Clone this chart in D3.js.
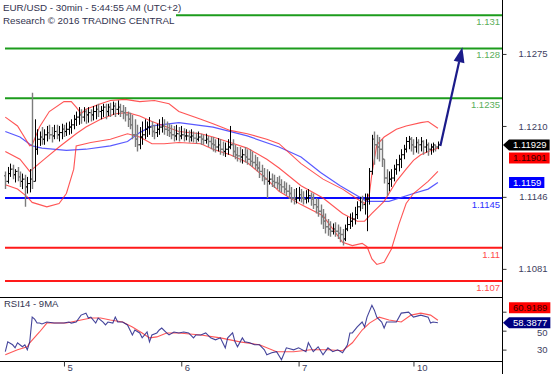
<!DOCTYPE html>
<html>
<head>
<meta charset="utf-8">
<script src="https://cdn.jsdelivr.net/npm/d3@7"></script>
<style>
  body { margin: 0; background: #fff; }
  svg { display: block; font-family: "Liberation Sans", Arial, sans-serif; }
</style>
</head>
<body>
<div id="chart"></div>
<script>
// ---- data (EUR/USD 30min bars) ----
const firstOpen = 1.1165;
const highs = [1.1169,1.1173,1.1176,1.1175,1.1171,1.1173,1.1169,1.1167,1.1166,1.1164,
  1.1171,1.1240,1.1216,1.1207,1.1205,1.1209,1.1207,1.1210,1.1211,1.1209,
  1.1211,1.1211,1.1210,1.1212,1.1211,1.1213,1.1214,1.1216,1.1220,1.1223,
  1.1227,1.1225,1.1227,1.1225,1.1227,1.1225,1.1228,1.1229,1.1230,1.1228,
  1.1230,1.1230,1.1230,1.1231,1.1232,1.1231,1.1233,1.1230,1.1229,1.1227,
  1.1223,1.1222,1.1220,1.1216,1.1211,1.1209,1.1214,1.1216,1.1214,1.1218,
  1.1214,1.1211,1.1212,1.1216,1.1218,1.1216,1.1214,1.1212,1.1211,1.1210,
  1.1211,1.1209,1.1210,1.1208,1.1207,1.1206,1.1207,1.1205,1.1204,1.1205,
  1.1203,1.1202,1.1203,1.1201,1.1200,1.1200,1.1198,1.1199,1.1198,1.1196,
  1.1195,1.1198,1.1210,1.1198,1.1193,1.1191,1.1191,1.1189,1.1191,1.1189,
  1.1189,1.1187,1.1184,1.1182,1.1178,1.1175,1.1172,1.1171,1.1169,1.1167,
  1.1166,1.1164,1.1165,1.1162,1.1160,1.1159,1.1157,1.1155,1.1153,1.1154,
  1.1155,1.1153,1.1151,1.1152,1.1153,1.1150,1.1149,1.1145,1.1144,1.1139,
  1.1135,1.1131,1.1126,1.1124,1.1122,1.1123,1.1121,1.1119,1.1117,1.1121,
  1.1128,1.1131,1.1132,1.1137,1.1142,1.1146,1.1147,1.1149,1.1149,1.1172,
  1.1202,1.1205,1.1202,1.1200,1.1198,1.1180,1.1171,1.1169,1.1171,1.1175,
  1.1180,1.1184,1.1189,1.1193,1.1200,1.1201,1.1200,1.1198,1.1200,1.1198,
  1.1200,1.1197,1.1198,1.1195,1.1194,1.1195,1.1193,1.1196];
const lows = [1.1153,1.1158,1.1164,1.1162,1.1159,1.1160,1.1155,1.1153,1.1137,1.1149,
  1.1150,1.1153,1.1160,1.1184,1.1192,1.1193,1.1193,1.1196,1.1198,1.1195,
  1.1198,1.1198,1.1196,1.1198,1.1200,1.1201,1.1202,1.1203,1.1207,1.1210,
  1.1211,1.1212,1.1214,1.1212,1.1213,1.1214,1.1215,1.1216,1.1218,1.1216,
  1.1218,1.1216,1.1219,1.1218,1.1220,1.1218,1.1220,1.1218,1.1216,1.1214,
  1.1209,1.1207,1.1198,1.1191,1.1187,1.1189,1.1193,1.1198,1.1200,1.1202,
  1.1200,1.1198,1.1200,1.1202,1.1204,1.1202,1.1201,1.1200,1.1198,1.1196,
  1.1197,1.1196,1.1198,1.1196,1.1197,1.1195,1.1196,1.1195,1.1194,1.1196,
  1.1193,1.1193,1.1194,1.1191,1.1189,1.1187,1.1186,1.1187,1.1184,1.1183,
  1.1182,1.1184,1.1189,1.1182,1.1180,1.1178,1.1177,1.1176,1.1177,1.1175,
  1.1174,1.1173,1.1171,1.1169,1.1163,1.1160,1.1157,1.1145,1.1157,1.1155,
  1.1154,1.1153,1.1151,1.1150,1.1149,1.1147,1.1144,1.1141,1.1139,1.1140,
  1.1142,1.1141,1.1139,1.1140,1.1141,1.1138,1.1135,1.1131,1.1128,1.1121,
  1.1117,1.1113,1.1111,1.1110,1.1112,1.1110,1.1108,1.1105,1.1102,1.1106,
  1.1115,1.1117,1.1119,1.1121,1.1126,1.1133,1.1135,1.1130,1.1115,1.1139,
  1.1166,1.1175,1.1180,1.1178,1.1173,1.1158,1.1147,1.1151,1.1155,1.1160,
  1.1166,1.1169,1.1172,1.1180,1.1186,1.1189,1.1187,1.1184,1.1186,1.1185,
  1.1187,1.1184,1.1186,1.1183,1.1184,1.1186,1.1187,1.1189];
const closes = [1.1160,1.1167,1.1171,1.1166,1.1169,1.1164,1.1160,1.1162,1.1155,1.1158,
  1.1162,1.1160,1.1189,1.1198,1.1200,1.1198,1.1202,1.1204,1.1202,1.1201,
  1.1205,1.1202,1.1204,1.1207,1.1205,1.1207,1.1209,1.1211,1.1216,1.1218,
  1.1220,1.1218,1.1223,1.1220,1.1222,1.1220,1.1223,1.1225,1.1223,1.1224,
  1.1227,1.1223,1.1227,1.1225,1.1228,1.1225,1.1227,1.1223,1.1222,1.1220,
  1.1216,1.1211,1.1202,1.1198,1.1193,1.1200,1.1202,1.1207,1.1209,1.1209,
  1.1205,1.1204,1.1207,1.1209,1.1210,1.1207,1.1206,1.1204,1.1202,1.1201,
  1.1203,1.1201,1.1202,1.1201,1.1201,1.1200,1.1201,1.1199,1.1198,1.1200,
  1.1198,1.1197,1.1198,1.1196,1.1194,1.1193,1.1191,1.1193,1.1189,1.1187,
  1.1189,1.1191,1.1193,1.1187,1.1184,1.1183,1.1182,1.1184,1.1182,1.1180,
  1.1178,1.1177,1.1175,1.1172,1.1169,1.1165,1.1162,1.1160,1.1162,1.1160,
  1.1159,1.1158,1.1157,1.1155,1.1153,1.1151,1.1149,1.1145,1.1144,1.1145,
  1.1148,1.1145,1.1144,1.1145,1.1147,1.1144,1.1139,1.1137,1.1133,1.1128,
  1.1124,1.1119,1.1117,1.1115,1.1117,1.1115,1.1113,1.1112,1.1108,1.1117,
  1.1121,1.1124,1.1126,1.1130,1.1137,1.1141,1.1139,1.1144,1.1144,1.1169,
  1.1198,1.1193,1.1191,1.1189,1.1180,1.1163,1.1158,1.1162,1.1163,1.1171,
  1.1175,1.1180,1.1184,1.1189,1.1196,1.1198,1.1193,1.1191,1.1195,1.1193,
  1.1196,1.1191,1.1193,1.1189,1.1191,1.1193,1.1191,1.1193];

// indicator lines, [bar index, value]
const bbUpper = [[0,1.1218],[5,1.1210],[10,1.1192],[11,1.1193],[14,1.1209],[18,1.1223],[24,1.1232],[27,1.1232],
  [29,1.1227],[31,1.1221],[33,1.1225],[39,1.1230],[43,1.1233],[49,1.1234],[55,1.1232],[61,1.1233],[67,1.1230],
  [71,1.1223],[80,1.1216],[85,1.1212],[92,1.1206],[99,1.1203],[107,1.1198],[112,1.1194],[121,1.1176],[130,1.1162],
  [138,1.1153],[144,1.1144],[147,1.1140],[149,1.1149],[150,1.1167],[152,1.1193],[155,1.1200],[160,1.1207],
  [164,1.1210],[170,1.1213],[173,1.1214],[177,1.1208]];
const bbMid = [[0,1.1187],[6,1.1180],[10,1.1169],[16,1.1180],[22,1.1191],[29,1.1203],[33,1.1209],[39,1.1216],
  [45,1.1221],[50,1.1222],[55,1.1219],[60,1.1214],[65,1.1210],[71,1.1205],[80,1.1203],[85,1.1200],[92,1.1195],
  [99,1.1190],[107,1.1180],[112,1.1172],[121,1.1156],[130,1.1145],[138,1.1131],[144,1.1124],[147,1.1124],
  [150,1.1131],[155,1.1142],[160,1.1160],[164,1.1171],[167,1.1179],[170,1.1184],[173,1.1187],[177,1.1190]];
const bbLower = [[0,1.1157],[5,1.1153],[9,1.1146],[11,1.1141],[17,1.1137],[22,1.1140],[25,1.1149],[28,1.1171],
  [29,1.1192],[35,1.1195],[43,1.1198],[50,1.1203],[55,1.1200],[60,1.1194],[65,1.1194],[71,1.1195],[80,1.1194],
  [85,1.1189],[92,1.1184],[99,1.1177],[107,1.1162],[112,1.1151],[121,1.1139],[130,1.1129],[138,1.1105],
  [142,1.1102],[146,1.1104],[148,1.1101],[150,1.1090],[152,1.1085],[155,1.1087],[158,1.1099],[161,1.1121],
  [164,1.1140],[167,1.1149],[173,1.1160],[177,1.1169]];
const maBlue = [[0,1.1205],[6,1.1200],[11,1.1192],[15,1.1190],[25,1.1188],[33,1.1189],[43,1.1192],[50,1.1196],
  [55,1.1204],[60,1.1210],[71,1.1213],[85,1.1209],[99,1.1201],[112,1.1191],[121,1.1182],[129,1.1168],
  [137,1.1156],[144,1.1147],[148,1.1142],[157,1.1142],[167,1.1149],[173,1.1153],[177,1.1159]];

const rsi = [[0,27.8],[1,38.2],[3,35.1],[4,31.9],[5,37.2],[7,33.0],[8,35.1],[9,29.8],[10,38.2],[11,64.3],
  [12,62.2],[13,58.0],[14,58.0],[15,57.0],[17,59.1],[20,58.0],[22,58.0],[24,58.0],[26,59.1],[27,58.0],
  [29,59.1],[31,66.4],[33,68.5],[34,63.3],[35,64.3],[37,58.0],[38,63.3],[40,59.1],[41,56.0],[42,59.1],
  [44,58.0],[45,64.3],[46,59.1],[48,59.1],[50,56.0],[52,45.5],[53,50.7],[55,47.6],[56,42.4],[58,48.6],
  [59,38.2],[60,45.5],[62,47.6],[63,50.7],[64,52.8],[66,47.6],[67,45.5],[69,48.6],[71,47.6],[73,48.6],
  [75,47.6],[77,42.4],[78,45.5],[80,45.5],[82,47.6],[84,42.4],[86,40.3],[88,42.4],[90,31.9],[91,42.4],
  [93,47.6],[94,38.2],[95,33.0],[97,42.4],[98,38.2],[100,37.2],[102,35.1],[104,35.1],[106,29.8],[107,24.6],
  [109,26.7],[111,27.8],[113,19.4],[115,31.9],[118,29.8],[120,31.9],[123,27.8],[124,37.2],[126,27.8],
  [128,33.0],[130,24.6],[132,31.9],[134,27.8],[136,29.8],[138,26.7],[140,35.1],[141,47.6],[142,47.6],
  [144,53.9],[146,59.1],[147,53.9],[148,64.3],[150,76.8],[151,71.6],[152,64.3],[154,59.1],[155,52.8],
  [156,59.1],[158,59.1],[160,59.1],[162,68.5],[165,69.5],[167,64.3],[170,66.4],[173,64.3],[174,58.0],
  [175,59.1],[177,58.3877]];
const rsiMa = [[0,24.6],[5,29.8],[9,33.0],[10,37.2],[14,48.6],[17,58.0],[20,58.0],[25,58.0],[31,61.2],
  [35,63.3],[39,63.3],[43,61.2],[48,59.1],[52,53.9],[56,47.6],[59,42.4],[62,43.4],[66,47.6],[71,47.6],
  [80,45.5],[88,42.4],[96,38.2],[104,35.1],[111,27.8],[118,27.8],[125,29.8],[132,29.8],[138,28.8],
  [142,37.2],[146,50.7],[149,58.0],[153,64.3],[157,61.2],[162,59.1],[166,66.4],[170,68.5],[174,66.4],
  [177,60.9189]];

// key levels drawn as horizontal lines
const levelValues = [1.131, 1.128, 1.1235, 1.1145, 1.11, 1.107];
const levelLabels = ["1.131", "1.128", "1.1235", "1.1145", "1.11", "1.107"];
const levelKinds = ["res", "res", "res", "pivot", "sup", "sup"];

// axis ticks (the 70 label sits under the RSI-MA tag, so it has no text)
const priceTicks = [1.1275, 1.1210, 1.1146, 1.1081];
const rsiTicks = [70, 50, 30];
const rsiTickLabels = ["", "50", "30"];
const dayLabels = ["5", "6", "7", "10"];
const dayIndex = [24, 72, 120, 167];

// arrow (target projection)
const arrowFrom = [178, 1.1192];
const arrowTo = [187, 1.1281];

// ---- chart ----
const width = 554, height = 374;
const axisX = 502;

const svg = d3.select('#chart')
    .append('svg')
    .attr('width', width)
    .attr('height', height);

const x = d3.scaleLinear().domain([0, 177]).range([5.3, 437.9]);
const y = d3.scaleLinear().domain([1.10556, 1.13237]).range([297, 0]);
const yR = d3.scaleLinear().domain([18, 85.5]).range([361, 297]);

const defs = svg.append('defs');
defs.append('clipPath').attr('id', 'clipMain')
    .append('rect').attr('x', 0).attr('y', 0).attr('width', axisX).attr('height', 297);
defs.append('clipPath').attr('id', 'clipRsi')
    .append('rect').attr('x', 0).attr('y', 297).attr('width', axisX).attr('height', 64);

const levelStyle = {
    res: {line: '#1c9c1c', text: '#5aae5a'},
    pivot: {line: '#0a0aff', text: '#3030ff'},
    sup: {line: '#ff1a1a', text: '#ff4c4c'}
};

const main = svg.append('g').attr('clip-path', 'url(#clipMain)');

// level lines
const levels = main.append('g')
    .selectAll('g')
    .data(levelValues)
    .join('g');

levels.append('line')
    .attr('x1', 5)
    .attr('x2', axisX)
    .attr('y1', d => y(d))
    .attr('y2', d => y(d))
    .attr('stroke', (d, i) => levelStyle[levelKinds[i]].line)
    .attr('stroke-width', 2);

levels.append('text')
    .text((d, i) => levelLabels[i])
    .attr('x', axisX - 2)
    .attr('y', d => y(d) + 10)
    .attr('text-anchor', 'end')
    .attr('font-size', 9.5)
    .attr('fill', (d, i) => levelStyle[levelKinds[i]].text);

// indicator lines
const line = d3.line()
    .x(d => x(d[0]))
    .y(d => y(d[1]));

main.append('path').datum(maBlue)
    .attr('fill', 'none').attr('stroke', '#3c3cff').attr('stroke-opacity', 0.85)
    .attr('stroke-width', 1.2).attr('d', line);

[bbUpper, bbMid, bbLower].forEach(s => {
    main.append('path').datum(s)
        .attr('fill', 'none').attr('stroke', '#ff2a2a').attr('stroke-opacity', 0.8)
        .attr('stroke-width', 1.1).attr('d', line);
});

// OHLC bars
const bars = closes.map((c, i) => ({
    i: i, o: i ? closes[i - 1] : firstOpen, h: highs[i], l: lows[i], c: c
}));

main.append('g')
    .selectAll('path')
    .data(bars)
    .join('path')
    .attr('fill', 'none')
    .attr('stroke', d => d.c >= d.o ? '#000' : '#7c7c7c')
    .attr('stroke-width', d => d.c >= d.o ? 1 : 1.4)
    .attr('d', d => {
        const px = Math.round(x(d.i)) + 0.5;
        return `M${px},${y(d.h)}V${y(d.l)}M${px - 1.5},${y(d.o)}H${px}M${px},${y(d.c)}H${px + 1.5}`;
    });

// projection arrow
const ax0 = x(arrowFrom[0]), ay0 = y(arrowFrom[1]);
const ax1 = x(arrowTo[0]), ay1 = y(arrowTo[1]);
const ang = Math.atan2(ay1 - ay0, ax1 - ax0);
const headLen = 15, headW = 5.5;
const bx = ax1 - headLen * Math.cos(ang), by = ay1 - headLen * Math.sin(ang);
main.append('line')
    .attr('x1', ax0).attr('y1', ay0).attr('x2', bx).attr('y2', by)
    .attr('stroke', '#1b1b8a').attr('stroke-width', 2.2);
main.append('path')
    .attr('d', `M${ax1},${ay1}L${bx + headW * Math.sin(ang)},${by - headW * Math.cos(ang)}` +
        `L${bx - headW * Math.sin(ang)},${by + headW * Math.cos(ang)}Z`)
    .attr('fill', '#1b1b8a');

// RSI panel
const rsiG = svg.append('g').attr('clip-path', 'url(#clipRsi)');
const rline = d3.line()
    .x(d => x(d[0]))
    .y(d => yR(d[1]));

rsiG.append('path').datum(rsiMa)
    .attr('fill', 'none').attr('stroke', '#ff3a3a').attr('stroke-opacity', 0.85)
    .attr('stroke-width', 1.1).attr('d', rline);
rsiG.append('path').datum(rsi)
    .attr('fill', 'none').attr('stroke', '#23238a').attr('stroke-opacity', 0.85)
    .attr('stroke-width', 1.1).attr('d', rline);

// panel borders
svg.append('line').attr('x1', 0).attr('x2', axisX).attr('y1', 297.5).attr('y2', 297.5)
    .attr('stroke', '#000');
svg.append('line').attr('x1', 0).attr('x2', axisX).attr('y1', 361.5).attr('y2', 361.5)
    .attr('stroke', '#000');
svg.append('line').attr('x1', axisX + 0.5).attr('x2', axisX + 0.5).attr('y1', 0).attr('y2', height)
    .attr('stroke', '#000');

// right axes
const yAxis = d3.axisRight(y)
    .tickValues(priceTicks)
    .tickFormat(d3.format('.4f'))
    .tickSize(4);
const rAxis = d3.axisRight(yR)
    .tickValues(rsiTicks)
    .tickFormat((d, i) => rsiTickLabels[i])
    .tickSize(4);

[[yAxis, 'price'], [rAxis, 'rsi']].forEach(([ax, cls]) => {
    svg.append('g')
        .attr('class', 'axis ' + cls)
        .attr('transform', `translate(${axisX + 0.5},0)`)
        .call(ax)
        .call(g => g.select('.domain').remove())
        .call(g => g.selectAll('.tick line').attr('stroke', '#333'))
        .call(g => g.selectAll('.tick text')
            .attr('x', 45)
            .attr('text-anchor', 'end')
            .attr('fill', '#3e3e5e')
            .attr('font-size', 9.5)
            .attr('font-family', '"Liberation Sans", Arial, sans-serif'));
});

// the 50 label sits just under the RSI tag; nudge it down a touch
svg.select('.axis.rsi').selectAll('.tick text')
    .attr('dy', (d) => d === 50 ? '0.5em' : '0.32em');

// day axis
svg.append('g')
    .attr('transform', 'translate(0,361.5)')
    .call(d3.axisBottom(x)
        .tickValues(dayIndex)
        .tickSize(5)
        .tickFormat((d, i) => dayLabels[i]))
    .call(g => g.select('.domain').remove())
    .call(g => g.selectAll('.tick line').attr('stroke', '#333'))
    .call(g => g.selectAll('.tick text')
        .attr('x', 3)
        .attr('y', 3)
        .attr('text-anchor', 'start')
        .attr('fill', '#3e3e5e')
        .attr('font-size', 9.5)
        .attr('font-family', '"Liberation Sans", Arial, sans-serif'));

// value tags on the right axis
function tag(yc, text, bg, fg, pointer) {
    const g = svg.append('g');
    const t = g.append('text')
        .text(text)
        .attr('x', 513)
        .attr('y', yc)
        .attr('dy', '0.35em')
        .attr('font-size', 9.5)
        .attr('fill', fg);
    const w = t.node().getComputedTextLength();
    const top = yc - 5.5, bot = yc + 5.5, right = Math.min(width, 513 + w + 3);
    const d = pointer
        ? `M${axisX + 1},${yc}L509,${top}H${right}V${bot}H509Z`
        : `M509,${top}H${right}V${bot}H509Z`;
    g.insert('path', 'text').attr('d', d).attr('fill', bg);
}

const lastClose = 1.11929, midBand = 1.11901, lastBlue = 1.1159;
const lastRsi = 58.3877, lastRsiMa = 60.9189;
const tagH = 12;

const yClose = y(lastClose);
let yMid = y(midBand);
if (Math.abs(yMid - yClose) < tagH) yMid = yClose + tagH + 1;
tag(yClose, '1.11929', '#000', '#fff', true);
tag(yMid, '1.11901', '#ff0000', '#3a0000', false);
tag(y(lastBlue), '1.1159', '#0000ff', '#fff', false);

const yRsiNow = yR(lastRsi);
let yRsiMa = yR(lastRsiMa);
if (Math.abs(yRsiMa - yRsiNow) < tagH) yRsiMa = yRsiNow - tagH - 3;
tag(yRsiMa, '60.9189', '#ff0000', '#3a0000', false);
tag(yRsiNow, '58.3877', '#000080', '#fff', true);

// titles
svg.append('rect').attr('x', 0).attr('y', 0).attr('width', 176).attr('height', 28).attr('fill', '#fff');
svg.append('text').text('EUR/USD - 30min - 5:44:55 AM (UTC+2)')
    .attr('x', 3).attr('y', 11).attr('font-size', 9.8).attr('fill', '#33334f');
svg.append('text').text('Research \u00a9 2016 TRADING CENTRAL')
    .attr('x', 3).attr('y', 24).attr('font-size', 9.8).attr('fill', '#33334f');
svg.append('text').text('RSI14 - 9MA')
    .attr('x', 4).attr('y', 307).attr('font-size', 9.5).attr('fill', '#33334f');
</script>
</body>
</html>
